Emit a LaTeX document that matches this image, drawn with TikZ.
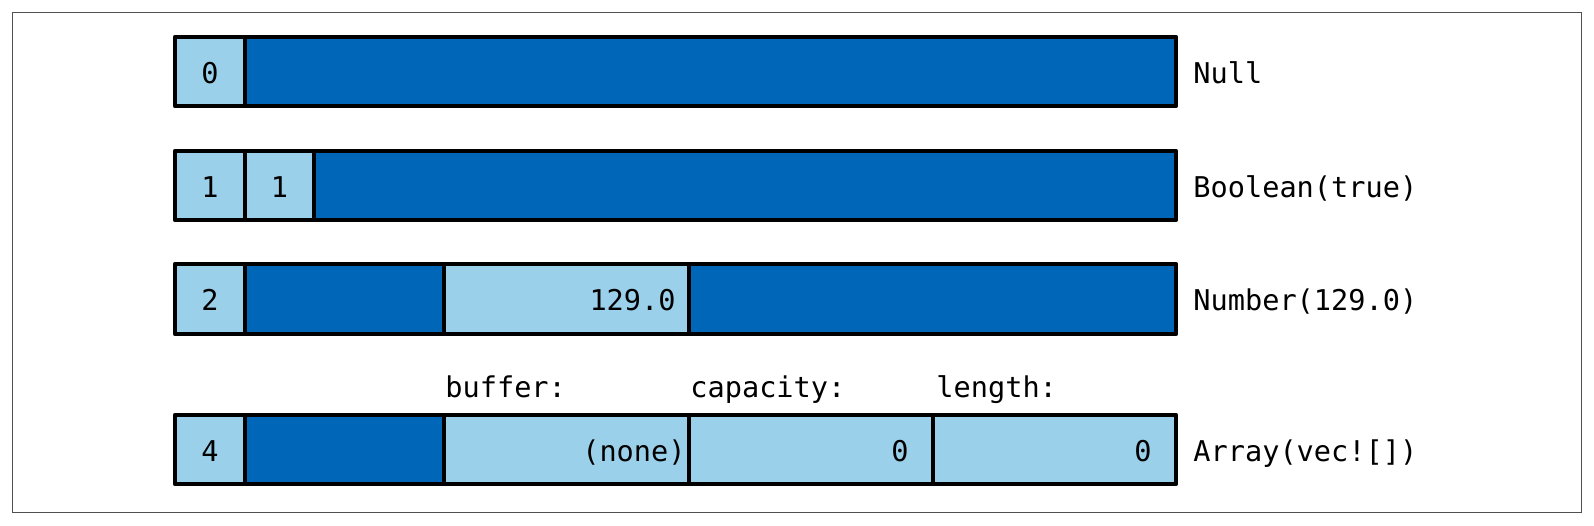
\documentclass[tikz,border=0pt]{standalone}
\usepackage{fontspec}
\setmonofont{DejaVu Sans Mono}
\definecolor{darkcell}{RGB}{0,103,184}
\definecolor{lightcell}{RGB}{155,208,234}
\definecolor{framegray}{RGB}{80,80,80}
\begin{document}
\begin{tikzpicture}[x=0.5pt,y=-0.5pt,
  dk/.style={fill=darkcell,draw=black,line width=2.2pt,line join=round},
  lt/.style={fill=lightcell,draw=black,line width=2.2pt,line join=round},
  txt/.style={font=\fontsize{14.3}{16}\ttfamily,inner sep=0pt,text=black},
  ctext/.style={txt,anchor=base},
  rtext/.style={txt,anchor=base east},
  ltext/.style={txt,anchor=base west}]
\useasboundingbox (0,0) rectangle (1594,525);
\draw[framegray,line width=0.8pt] (12.5,12.5) rectangle (1581.5,512.5);
% row 1: Null
\draw[dk] (245,37) rectangle (1176,106);
\draw[lt] (175,37) rectangle (245,106);
\node[ctext] (n0) at (210,83.5) {0};
\node[ltext] (nl) at (1193,83.5) {Null};
% row 2: Boolean
\draw[dk] (314,151) rectangle (1176,220);
\draw[lt] (175,151) rectangle (245,220);
\draw[lt] (245,151) rectangle (314,220);
\node[ctext] (b0) at (210,197) {1};
\node[ctext] (b1) at (279.5,197) {1};
\node[ltext] (bl) at (1193,197) {Boolean(true)};
% row 3: Number
\draw[dk] (245,264) rectangle (444,334);
\draw[lt] (444,264) rectangle (689,334);
\draw[dk] (689,264) rectangle (1176,334);
\draw[lt] (175,264) rectangle (245,334);
\node[ctext] (m0) at (210,310.5) {2};
\node[rtext] (m1) at (676,310.5) {129.0};
\node[ltext] (ml) at (1193,310.5) {Number(129.0)};
% row 4: Array
\draw[lt] (175,415) rectangle (245,484);
\draw[dk] (245,415) rectangle (444,484);
\draw[lt] (444,415) rectangle (689,484);
\draw[lt] (689,415) rectangle (933,484);
\draw[lt] (933,415) rectangle (1176,484);
\node[ctext] (a0) at (210,461.5) {4};
\node[rtext] (a1) at (686,461.5) {(none)};
\node[rtext] (a2) at (909,461.5) {0};
\node[rtext] (a3) at (1152,461.5) {0};
\node[ltext] (al) at (1193,461.5) {Array(vec![])};
\node[ltext] (hb) at (445,397) {buffer:};
\node[ltext] (hc) at (690,397) {capacity:};
\node[ltext] (hl) at (936,397) {length:};
\end{tikzpicture}
\end{document}
